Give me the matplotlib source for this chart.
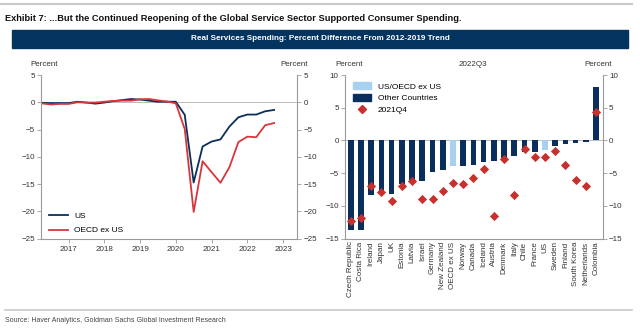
import numpy as np
import matplotlib.pyplot as plt
from matplotlib.patches import Rectangle
from matplotlib.lines import Line2D

# --- Left panel: quarterly series, 2016Q1 .. 2022Q3 (plotted at quarter end) ---
quarters = np.arange(2016.25, 2022.76, 0.25)
us = [-0.1, -0.15, -0.15, -0.15, 0.1, -0.05, -0.25, -0.05, 0.2, 0.4, 0.6, 0.5,
      0.3, 0.1, 0.1, 0.1, -2.3, -14.7, -8.1, -7.2, -6.8, -4.45, -2.75, -2.25,
      -2.25, -1.65, -1.4]
oecd = [-0.2, -0.4, -0.3, -0.3, 0.0, -0.05, -0.05, 0.1, 0.25, 0.3, 0.3, 0.55,
        0.6, 0.35, 0.15, -0.2, -4.9, -20.1, -10.8, -12.8, -14.75, -11.9, -7.3,
        -6.3, -6.4, -4.2, -3.8]
years = [2017, 2018, 2019, 2020, 2021, 2022, 2023]

# --- Right panel: countries, 2022Q3 bars and 2021Q4 diamonds ---
countries = ["Czech Republic", "Costa Rica", "Ireland", "Japan", "UK", "Estonia",
             "Latvia", "Israel", "Germany", "New Zealand", "OECD ex US", "Norway",
             "Canada", "Iceland", "Austria", "Denmark", "Italy", "Chile", "France",
             "US", "Sweden", "Finland", "South Korea", "Netherlands", "Colombia"]
q3_2022 = [-13.7, -13.6, -8.4, -8.2, -8.1, -6.6, -6.1, -6.2, -4.8, -4.5, -3.9,
           -3.9, -3.7, -3.3, -3.1, -2.6, -2.4, -1.7, -1.7, -1.5, -0.85, -0.55,
           -0.45, -0.3, 8.1]
q4_2021 = [-12.3, -11.8, -6.9, -7.8, -9.3, -7.0, -6.2, -9.0, -8.9, -7.75, -6.5,
           -6.7, -5.7, -4.4, -11.5, -2.85, -8.4, -1.3, -2.55, -2.45, -1.6, -3.7,
           -6.1, -7.0, 4.4]
aggregates = ["OECD ex US", "US"]

# --- colours ---
navy = "#0A2F5C"
red = "#D7373C"
diamond_red = "#C8302E"
light_blue = "#A8D1F0"
banner = "#03335F"
axis_grey = "#9A9A9A"
text_c = "#333333"

W, H = 640, 329
fig = plt.figure(figsize=(W / 100, H / 100), dpi=100)
fig.patch.set_facecolor("white")
plt.rcParams["font.family"] = ["Liberation Sans", "DejaVu Sans"]


def px_axes(x0, y0, x1, y1):
    return fig.add_axes([x0 / W, 1 - y1 / H, (x1 - x0) / W, (y1 - y0) / H])


# header / footer
fig.add_artist(Line2D([0, 632 / W], [1 - 4 / H] * 2, color="#C8C8C8", lw=1.5))
fig.text(5 / W, 1 - 18.5 / H,
         "Exhibit 7: ...But the Continued Reopening of the Global Service Sector "
         "Supported Consumer Spending.",
         weight="bold", fontsize=6.7, va="center", ha="left", color="#111111")
fig.add_artist(Rectangle((12 / W, 1 - 47.5 / H), 616 / W, 17.5 / H,
                         color=banner, transform=fig.transFigure))
fig.text(320 / W, 1 - 39 / H,
         "Real Services Spending: Percent Difference From 2012-2019 Trend",
         color="white", fontsize=5.9, weight="bold", ha="center", va="center")
fig.add_artist(Line2D([5 / W, 632 / W], [1 - 309.5 / H] * 2, color="#C8C8C8", lw=1.2))
fig.text(5 / W, 1 - 320 / H,
         "Source: Haver Analytics, Goldman Sachs Global Investment Research",
         fontsize=5.0, va="center", ha="left", color="#444444")


def style(ax):
    ax.spines["top"].set_visible(False)
    for s in ["left", "right", "bottom"]:
        ax.spines[s].set_color(axis_grey)
        ax.spines[s].set_linewidth(0.8)
    ax.yaxis.set_ticks_position("both")
    ax.tick_params(axis="y", labelright=True, direction="out", length=3,
                   width=0.6, color=axis_grey, labelsize=5.8, labelcolor=text_c,
                   pad=1.5)
    ax.axhline(0, color="#BBBBBB", lw=0.7, zorder=0)


# --- left panel ---
axl = px_axes(41, 75, 297, 238.7)
style(axl)
axl.plot(quarters, us, color=navy, lw=1.3, label="US")
axl.plot(quarters, oecd, color=red, lw=1.3, label="OECD ex US")
axl.set_xlim(2016.23, 2023.39)
axl.set_ylim(-25, 5)
axl.set_yticks(range(-25, 6, 5))
axl.set_yticklabels([str(v).replace("-", "\u2212") for v in range(-25, 6, 5)])
axl.set_xticks(years)
axl.tick_params(axis="x", direction="out", length=3, width=0.6, color=axis_grey,
                labelsize=5.8, labelcolor=text_c, pad=2)
axl.legend(loc="lower left", frameon=False, fontsize=6, handlelength=2.3,
           bbox_to_anchor=(0.0, -0.02), labelspacing=0.85)
fig.text(44 / W, 1 - 65 / H, "Percent", fontsize=5.8, ha="center", va="center",
         color=text_c)
fig.text(294 / W, 1 - 65 / H, "Percent", fontsize=5.8, ha="center", va="center",
         color=text_c)

# --- right panel ---
axr = px_axes(345, 75, 602.7, 238.7)
style(axr)
x = np.arange(len(countries))
bar_cols = [light_blue if c in aggregates else navy for c in countries]
axr.bar(x, q3_2022, width=0.56, color=bar_cols, zorder=2)
axr.scatter(x, q4_2021, marker="D", s=22, color=diamond_red, zorder=3,
            linewidths=0)
axr.set_xlim(-0.56, 24.65)
axr.set_ylim(-15, 10)
axr.set_yticks(range(-15, 11, 5))
axr.set_yticklabels([str(v).replace("-", "\u2212") for v in range(-15, 11, 5)])
axr.set_xticks(x)
axr.set_xticklabels(countries, rotation=90)
axr.tick_params(axis="x", length=0, labelsize=5.8, labelcolor=text_c, pad=2)
handles = [Rectangle((0, 0), 1, 1, color=light_blue),
           Rectangle((0, 0), 1, 1, color=navy),
           Line2D([], [], marker="D", ls="none", color=diamond_red, markersize=4.5)]
axr.legend(handles, ["US/OECD ex US", "Other Countries", "2021Q4"], loc="upper left",
           frameon=False, fontsize=6, handlelength=2.2, handleheight=0.8,
           bbox_to_anchor=(0.0, 1.0), labelspacing=0.45)
fig.text(349 / W, 1 - 65 / H, "Percent", fontsize=5.8, ha="center", va="center",
         color=text_c)
fig.text(473 / W, 1 - 65 / H, "2022Q3", fontsize=5.8, ha="center", va="center",
         color=text_c)
fig.text(598 / W, 1 - 65 / H, "Percent", fontsize=5.8, ha="center", va="center",
         color=text_c)

fig.savefig("out.png", dpi=100)
